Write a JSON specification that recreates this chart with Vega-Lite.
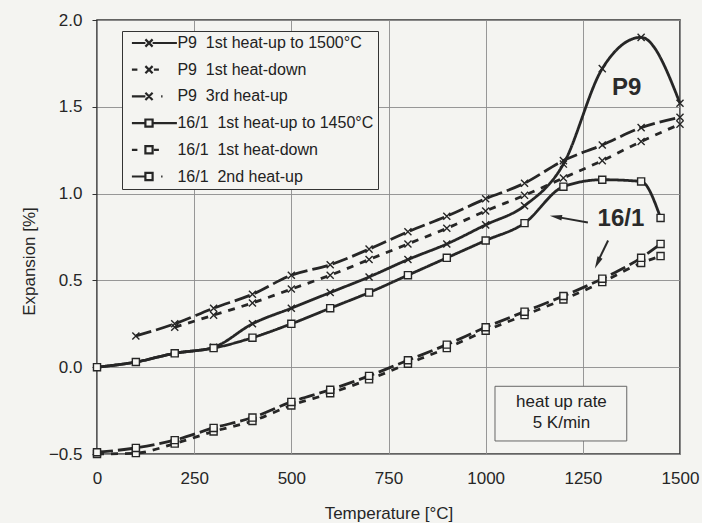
{
 "$schema": "https://vega.github.io/schema/vega-lite/v6.json",
 "width": 583, "height": 434,
 "autosize": {"type": "none"},
 "padding": {"left": 97, "top": 20, "right": 22, "bottom": 69},
 "background": "#f4f4f1",
 "datasets": {
  "curves": [
   {"s":"P9 1st heat-up to 1500°C","T":0,"E":0},{"s":"P9 1st heat-up to 1500°C","T":100,"E":0.03},{"s":"P9 1st heat-up to 1500°C","T":200,"E":0.08},{"s":"P9 1st heat-up to 1500°C","T":300,"E":0.115},{"s":"P9 1st heat-up to 1500°C","T":400,"E":0.25},{"s":"P9 1st heat-up to 1500°C","T":500,"E":0.34},{"s":"P9 1st heat-up to 1500°C","T":600,"E":0.43},{"s":"P9 1st heat-up to 1500°C","T":700,"E":0.52},{"s":"P9 1st heat-up to 1500°C","T":800,"E":0.62},{"s":"P9 1st heat-up to 1500°C","T":900,"E":0.71},{"s":"P9 1st heat-up to 1500°C","T":1000,"E":0.82},{"s":"P9 1st heat-up to 1500°C","T":1100,"E":0.93},{"s":"P9 1st heat-up to 1500°C","T":1200,"E":1.17},{"s":"P9 1st heat-up to 1500°C","T":1300,"E":1.72},{"s":"P9 1st heat-up to 1500°C","T":1400,"E":1.9},{"s":"P9 1st heat-up to 1500°C","T":1500,"E":1.52},
   {"s":"P9 1st heat-down","T":200,"E":0.23},{"s":"P9 1st heat-down","T":300,"E":0.3},{"s":"P9 1st heat-down","T":400,"E":0.37},{"s":"P9 1st heat-down","T":500,"E":0.45},{"s":"P9 1st heat-down","T":600,"E":0.53},{"s":"P9 1st heat-down","T":700,"E":0.62},{"s":"P9 1st heat-down","T":800,"E":0.71},{"s":"P9 1st heat-down","T":900,"E":0.8},{"s":"P9 1st heat-down","T":1000,"E":0.9},{"s":"P9 1st heat-down","T":1100,"E":0.99},{"s":"P9 1st heat-down","T":1200,"E":1.09},{"s":"P9 1st heat-down","T":1300,"E":1.19},{"s":"P9 1st heat-down","T":1400,"E":1.3},{"s":"P9 1st heat-down","T":1500,"E":1.4},
   {"s":"P9 3rd heat-up","T":100,"E":0.18},{"s":"P9 3rd heat-up","T":200,"E":0.25},{"s":"P9 3rd heat-up","T":300,"E":0.34},{"s":"P9 3rd heat-up","T":400,"E":0.42},{"s":"P9 3rd heat-up","T":500,"E":0.53},{"s":"P9 3rd heat-up","T":600,"E":0.59},{"s":"P9 3rd heat-up","T":700,"E":0.68},{"s":"P9 3rd heat-up","T":800,"E":0.78},{"s":"P9 3rd heat-up","T":900,"E":0.87},{"s":"P9 3rd heat-up","T":1000,"E":0.97},{"s":"P9 3rd heat-up","T":1100,"E":1.06},{"s":"P9 3rd heat-up","T":1200,"E":1.19},{"s":"P9 3rd heat-up","T":1300,"E":1.28},{"s":"P9 3rd heat-up","T":1400,"E":1.38},{"s":"P9 3rd heat-up","T":1500,"E":1.44},
   {"s":"16/1 1st heat-up to 1450°C","T":0,"E":0},{"s":"16/1 1st heat-up to 1450°C","T":100,"E":0.03},{"s":"16/1 1st heat-up to 1450°C","T":200,"E":0.08},{"s":"16/1 1st heat-up to 1450°C","T":300,"E":0.11},{"s":"16/1 1st heat-up to 1450°C","T":400,"E":0.17},{"s":"16/1 1st heat-up to 1450°C","T":500,"E":0.25},{"s":"16/1 1st heat-up to 1450°C","T":600,"E":0.34},{"s":"16/1 1st heat-up to 1450°C","T":700,"E":0.43},{"s":"16/1 1st heat-up to 1450°C","T":800,"E":0.53},{"s":"16/1 1st heat-up to 1450°C","T":900,"E":0.63},{"s":"16/1 1st heat-up to 1450°C","T":1000,"E":0.73},{"s":"16/1 1st heat-up to 1450°C","T":1100,"E":0.83},{"s":"16/1 1st heat-up to 1450°C","T":1200,"E":1.04},{"s":"16/1 1st heat-up to 1450°C","T":1300,"E":1.08},{"s":"16/1 1st heat-up to 1450°C","T":1400,"E":1.07},{"s":"16/1 1st heat-up to 1450°C","T":1450,"E":0.86},
   {"s":"16/1 1st heat-down","T":0,"E":-0.5},{"s":"16/1 1st heat-down","T":100,"E":-0.495},{"s":"16/1 1st heat-down","T":200,"E":-0.44},{"s":"16/1 1st heat-down","T":300,"E":-0.37},{"s":"16/1 1st heat-down","T":400,"E":-0.31},{"s":"16/1 1st heat-down","T":500,"E":-0.22},{"s":"16/1 1st heat-down","T":600,"E":-0.15},{"s":"16/1 1st heat-down","T":700,"E":-0.07},{"s":"16/1 1st heat-down","T":800,"E":0.02},{"s":"16/1 1st heat-down","T":900,"E":0.11},{"s":"16/1 1st heat-down","T":1000,"E":0.21},{"s":"16/1 1st heat-down","T":1100,"E":0.3},{"s":"16/1 1st heat-down","T":1200,"E":0.39},{"s":"16/1 1st heat-down","T":1300,"E":0.49},{"s":"16/1 1st heat-down","T":1400,"E":0.6},{"s":"16/1 1st heat-down","T":1450,"E":0.64},
   {"s":"16/1 2nd heat-up","T":0,"E":-0.49},{"s":"16/1 2nd heat-up","T":100,"E":-0.465},{"s":"16/1 2nd heat-up","T":200,"E":-0.42},{"s":"16/1 2nd heat-up","T":300,"E":-0.35},{"s":"16/1 2nd heat-up","T":400,"E":-0.29},{"s":"16/1 2nd heat-up","T":500,"E":-0.2},{"s":"16/1 2nd heat-up","T":600,"E":-0.13},{"s":"16/1 2nd heat-up","T":700,"E":-0.05},{"s":"16/1 2nd heat-up","T":800,"E":0.04},{"s":"16/1 2nd heat-up","T":900,"E":0.13},{"s":"16/1 2nd heat-up","T":1000,"E":0.23},{"s":"16/1 2nd heat-up","T":1100,"E":0.32},{"s":"16/1 2nd heat-up","T":1200,"E":0.41},{"s":"16/1 2nd heat-up","T":1300,"E":0.51},{"s":"16/1 2nd heat-up","T":1400,"E":0.63},{"s":"16/1 2nd heat-up","T":1450,"E":0.71}
  ]
 },
 "data": {"name": "curves"},
 "config": {
  "font": "Liberation Sans",
  "view": {"stroke": "#333333", "strokeWidth": 1.6},
  "axis": {"labelFont": "Liberation Sans", "labelFontSize": 17, "labelColor": "#262626", "titleFont": "Liberation Sans", "titleFontSize": 17, "titleFontWeight": "normal", "titleColor": "#262626", "gridColor": "#8c8c8c", "gridWidth": 0.9, "gridOpacity": 1, "domain": false, "tickColor": "#333333"}
 },
 "resolve": {"scale": {"shape": "independent"}},
 "layer": [
  {
   "mark": {"type": "line", "interpolate": "monotone", "color": "#262626", "strokeWidth": 2.8},
   "encoding": {
    "x": {"field": "T", "type": "quantitative", "scale": {"domain": [0, 1500], "nice": false, "zero": false}, "axis": {"values": [0, 250, 500, 750, 1000, 1250, 1500], "format": "d", "title": "Temperature [°C]", "ticks": false, "labelPadding": 16, "titlePadding": 19, "labelFlush": false}},
    "y": {"field": "E", "type": "quantitative", "scale": {"domain": [-0.5, 2.0], "nice": false, "zero": false}, "axis": {"values": [-0.5, 0, 0.5, 1, 1.5, 2], "format": ".1f", "title": "Expansion [%]", "tickSize": 5, "labelPadding": 10, "titlePadding": 10, "titleY": 241}},
    "detail": {"field": "s"},
    "strokeDash": {"field": "s", "type": "nominal", "legend": null, "scale": {"domain": ["P9 1st heat-up to 1500°C", "P9 1st heat-down", "P9 3rd heat-up", "16/1 1st heat-up to 1450°C", "16/1 1st heat-down", "16/1 2nd heat-up"], "range": [[1, 0], [7, 7], [16, 5], [1, 0], [7, 7], [16, 5]]}}
   }
  },
  {
   "mark": {"type": "point", "filled": true, "fill": "#f6f6f3", "stroke": "#262626", "strokeWidth": 1.4, "size": 50, "opacity": 1},
   "encoding": {
    "x": {"field": "T", "type": "quantitative"},
    "y": {"field": "E", "type": "quantitative"},
    "shape": {"field": "s", "type": "nominal", "legend": null, "scale": {"domain": ["P9 1st heat-up to 1500°C", "P9 1st heat-down", "P9 3rd heat-up", "16/1 1st heat-up to 1450°C", "16/1 1st heat-down", "16/1 2nd heat-up"], "range": ["M-1,-1L1,1M-1,1L1,-1", "M-1,-1L1,1M-1,1L1,-1", "M-1,-1L1,1M-1,1L1,-1", "square", "square", "square"]}}
   }
  },
  {
   "mark": {"type": "point", "opacity": 0, "size": 10},
   "encoding": {
    "x": {"field": "T", "type": "quantitative"},
    "y": {"field": "E", "type": "quantitative"},
    "shape": {"field": "s", "type": "nominal",
     "scale": {"domain": ["P9 1st heat-up to 1500°C", "P9 1st heat-down", "P9 3rd heat-up", "16/1 1st heat-up to 1450°C", "16/1 1st heat-down", "16/1 2nd heat-up"],
      "range": ["M-4.5,0H-1.8M-0.36,0H4.5M-1.8,-0.72L-0.36,0.72M-1.8,0.72L-0.36,-0.72", "M-4.5,0H-3.4M-1.8,-0.72L-0.36,0.72M-1.8,0.72L-0.36,-0.72M-0.1,0H0.9", "M-4.5,0H-1.8M-1.8,-0.72L-0.36,0.72M-1.8,0.72L-0.36,-0.72M1.35,0H1.62", "M-4.5,0H-1.8M-0.36,0H4.5M-1.8,-0.72H-0.36V0.72H-1.8Z", "M-4.5,0H-3.4M-1.8,-0.72H-0.36V0.72H-1.8ZM-0.1,0H0.9", "M-4.5,0H-1.8M-1.8,-0.72H-0.36V0.72H-1.8ZM1.35,0H1.62"]},
     "legend": {"orient": "none", "legendX": 25, "legendY": 11, "title": null, "symbolSize": 100, "symbolOffset": 20.4, "symbolStrokeColor": "#262626", "symbolFillColor": "#f6f6f3", "symbolStrokeWidth": 2.2, "symbolOpacity": 1, "labelFont": "Liberation Sans", "labelFontSize": 16, "labelColor": "#222222", "labelOffset": 15, "padding": 4, "strokeColor": "#333333", "fillColor": "#f4f4f1", "rowPadding": 10.7, "labelLimit": 400, "labelExpr": "replace(datum.label, ' ', '\u00a0 ')"}
    }
   }
  },
  {
   "data": {"values": [{}]},
   "mark": {"type": "rect", "fill": "#f4f4f1", "stroke": "#666666", "strokeWidth": 1},
   "encoding": {"x": {"datum": 1024, "type": "quantitative"}, "x2": {"datum": 1363}, "y": {"datum": -0.11, "type": "quantitative"}, "y2": {"datum": -0.425}}
  },
  {
   "data": {"values": [{}]},
   "mark": {"type": "text", "text": "heat up rate", "font": "Liberation Sans", "fontSize": 17, "color": "#222222", "align": "center", "baseline": "middle"},
   "encoding": {"x": {"datum": 1195, "type": "quantitative"}, "y": {"datum": -0.2, "type": "quantitative"}}
  },
  {
   "data": {"values": [{}]},
   "mark": {"type": "text", "text": "5 K/min", "font": "Liberation Sans", "fontSize": 17, "color": "#222222", "align": "center", "baseline": "middle"},
   "encoding": {"x": {"datum": 1195, "type": "quantitative"}, "y": {"datum": -0.32, "type": "quantitative"}}
  },
  {
   "data": {"values": [{}]},
   "mark": {"type": "text", "text": "P9", "font": "Liberation Sans", "fontSize": 24, "fontWeight": "bold", "color": "#2a2a2a", "align": "center", "baseline": "middle"},
   "encoding": {"x": {"datum": 1363, "type": "quantitative"}, "y": {"datum": 1.61, "type": "quantitative"}}
  },
  {
   "data": {"values": [{}]},
   "mark": {"type": "text", "text": "16/1", "font": "Liberation Sans", "fontSize": 24, "fontWeight": "bold", "color": "#2a2a2a", "align": "center", "baseline": "middle"},
   "encoding": {"x": {"datum": 1348, "type": "quantitative"}, "y": {"datum": 0.856, "type": "quantitative"}}
  },
  {
   "data": {"values": [{}]},
   "mark": {"type": "rule", "color": "#2a2a2a", "strokeWidth": 2},
   "encoding": {"x": {"datum": 1263, "type": "quantitative"}, "y": {"datum": 0.833, "type": "quantitative"}, "x2": {"datum": 1182}, "y2": {"datum": 0.866}}
  },
  {
   "data": {"values": [{}]},
   "mark": {"type": "rule", "color": "#2a2a2a", "strokeWidth": 2},
   "encoding": {"x": {"datum": 1315, "type": "quantitative"}, "y": {"datum": 0.73, "type": "quantitative"}, "x2": {"datum": 1289}, "y2": {"datum": 0.61}}
  },
  {
   "data": {"values": [{}]},
   "mark": {"type": "point", "shape": "M0,-1L0.45,1L-0.45,1Z", "filled": true, "color": "#2a2a2a", "size": 150, "angle": 280, "opacity": 1},
   "encoding": {"x": {"datum": 1180.6, "type": "quantitative"}, "y": {"datum": 0.867, "type": "quantitative"}}
  },
  {
   "data": {"values": [{}]},
   "mark": {"type": "point", "shape": "M0,-1L0.45,1L-0.45,1Z", "filled": true, "color": "#2a2a2a", "size": 150, "angle": 205, "opacity": 1},
   "encoding": {"x": {"datum": 1287.6, "type": "quantitative"}, "y": {"datum": 0.6, "type": "quantitative"}}
  }
 ]
}
